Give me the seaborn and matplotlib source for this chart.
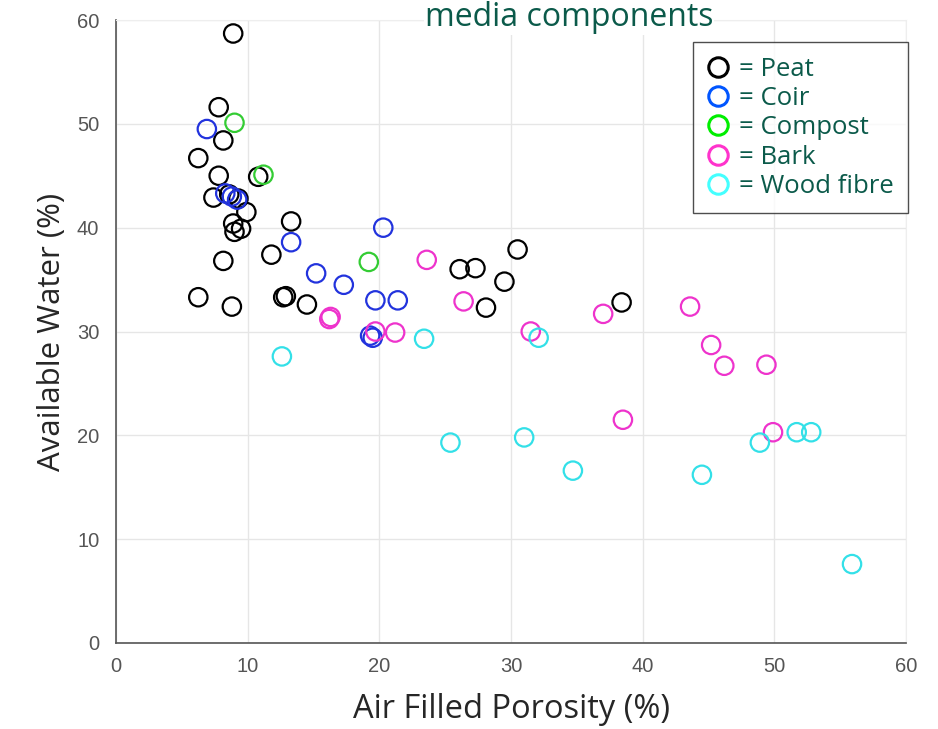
import matplotlib
matplotlib.use("Agg")
import matplotlib.pyplot as plt
from matplotlib.lines import Line2D
import seaborn as sns
import pandas as pd

# values (x = air filled porosity %, y = available water %)
peat_x = [8.9, 7.8, 8.15, 6.25, 7.8, 10.8, 7.4, 8.6, 9.3, 9.9, 8.9, 9.5, 9.0, 13.3,
          8.15, 11.8, 6.25, 8.8, 12.7, 12.9, 14.5, 26.1, 27.3, 30.5, 29.5, 28.1, 38.4]
peat_y = [58.7, 51.6, 48.4, 46.7, 45.0, 44.9, 42.9, 43.2, 42.8, 41.5, 40.4, 39.9, 39.6, 40.6,
          36.8, 37.4, 33.3, 32.4, 33.3, 33.4, 32.6, 36.0, 36.1, 37.9, 34.8, 32.3, 32.8]
coir_x = [6.9, 8.3, 8.8, 9.2, 13.3, 15.2, 17.3, 20.3, 19.7, 21.4, 19.3, 19.5]
coir_y = [49.5, 43.3, 43.0, 42.7, 38.6, 35.6, 34.5, 40.0, 33.0, 33.0, 29.6, 29.4]
compost_x = [9.0, 11.2, 19.2]
compost_y = [50.1, 45.1, 36.7]
bark_x = [16.2, 16.3, 23.6, 26.4, 19.7, 21.2, 31.5, 37.0, 43.6, 45.2, 46.2, 49.4, 38.5, 49.9]
bark_y = [31.2, 31.4, 36.9, 32.9, 30.0, 29.9, 30.0, 31.7, 32.4, 28.7, 26.7, 26.8, 21.5, 20.3]
wood_x = [12.6, 23.4, 32.1, 25.4, 31.0, 34.7, 44.5, 48.9, 51.7, 52.8, 55.9]
wood_y = [27.6, 29.3, 29.4, 19.3, 19.8, 16.6, 16.2, 19.3, 20.3, 20.3, 7.6]

components = ['Peat', 'Coir', 'Compost', 'Bark', 'Wood fibre']
colours = ['#000000', '#2233dd', '#33cc33', '#ee33cc', '#33e0e8']
legend_colours = ['#000000', '#0055ff', '#00ee00', '#ff33cc', '#44ffff']

xs = [peat_x, coir_x, compost_x, bark_x, wood_x]
ys = [peat_y, coir_y, compost_y, bark_y, wood_y]
df = pd.concat([pd.DataFrame({'afp': x, 'aw': y, 'comp': c})
                for x, y, c in zip(xs, ys, components)], ignore_index=True)

sns.set_style('white')
plt.rcParams['font.family'] = ['DejaVu Sans']
fig = plt.figure(figsize=(9.38, 7.29), dpi=100)
ax = fig.add_axes([116/938, 86/729, 790/938, 623/729])

sns.scatterplot(data=df, x='afp', y='aw', hue='comp', hue_order=components,
                palette=colours, s=175, linewidth=1.6, legend=False, ax=ax)
# open circles
pts = ax.collections[0]
pts.set_edgecolors(pts.get_facecolors())
pts.set_facecolors('none')

ax.set_xlim(0, 60)
ax.set_ylim(0, 60)
ax.set_xticks(range(0, 61, 10))
ax.set_yticks(range(0, 61, 10))
ax.grid(True, color='#e6e6e6', linewidth=1)
for side in ['left', 'bottom']:
    ax.spines[side].set_color('#555555')
    ax.spines[side].set_linewidth(1.2)
for side in ['top', 'right']:
    ax.spines[side].set_color('#eeeeee')
ax.tick_params(direction='in', length=4, color='#555555', labelcolor='#555555',
               labelsize=14.5)
ax.tick_params(axis='x', pad=10)
ax.tick_params(axis='y', pad=12)
for lab in ax.get_xticklabels() + ax.get_yticklabels():
    lab.set_family('Liberation Sans')

ax.set_xlabel('Air Filled Porosity (%)', fontsize=23.5, family='Open Sans', labelpad=12)
ax.set_ylabel('Available Water (%)', fontsize=22.5, family='Open Sans', labelpad=7)

handles = [Line2D([], [], marker='o', linestyle='none', markersize=14,
                  markerfacecolor='none', markeredgecolor=c, markeredgewidth=2.2)
           for c in legend_colours]
leg = ax.legend(handles, ['= ' + c for c in components], loc='upper right',
                bbox_to_anchor=(1.003, 0.964), frameon=True, fancybox=False,
                handlelength=0.8, handletextpad=0.45, labelspacing=0.17,
                borderpad=0.55, borderaxespad=0,
                prop={'family': 'Open Sans', 'size': 18.5})
leg.get_frame().set_edgecolor('#222222')
leg.get_frame().set_linewidth(1)
for t in leg.get_texts():
    t.set_color('#0b5a4a')

fig.text(569/938, 1 - 26/729, 'media components', ha='center', va='baseline',
         fontsize=23, family='Open Sans', color='#0b5a4a',
         bbox=dict(facecolor='white', edgecolor='none', pad=0.5))

fig.savefig('out.png', dpi=100)
